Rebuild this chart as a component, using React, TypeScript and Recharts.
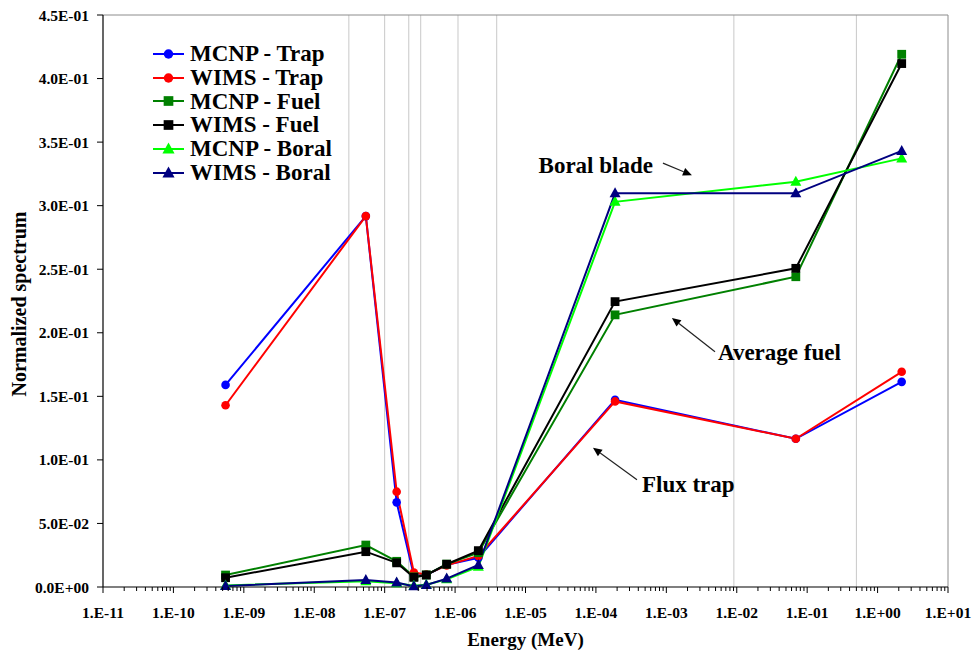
import { Legend, Line, LineChart, ReferenceLine, XAxis, YAxis } from "recharts";

const FONT = '"Liberation Serif", "Times New Roman", serif';

// energy group mid-points (MeV)
const energy = [5.5e-10, 5.4e-8, 1.48e-7, 2.6e-7, 3.9e-7, 7.6e-7, 2.14e-6, 1.87e-4, 6.9e-2, 2.2];

const mcnpTrap = [0.159, 0.2918, 0.0666, 0.009, 0.0095, 0.0175, 0.023, 0.1473, 0.1166, 0.1614];
const wimsTrap = [0.143, 0.2918, 0.075, 0.0114, 0.0098, 0.017, 0.0244, 0.146, 0.1166, 0.1693];
const mcnpFuel = [0.0094, 0.033, 0.0202, 0.008, 0.0095, 0.018, 0.027, 0.2141, 0.2441, 0.4191];
const wimsFuel = [0.0073, 0.0278, 0.019, 0.0076, 0.0094, 0.0179, 0.0286, 0.2245, 0.2507, 0.4118];
const mcnpBoral = [0.0012, 0.0045, 0.003, 0.001, 0.0018, 0.006, 0.016, 0.303, 0.3188, 0.3372];
const wimsBoral = [0.0008, 0.0055, 0.0035, 0.0005, 0.0016, 0.0066, 0.0173, 0.3097, 0.3097, 0.3431];

const decadeTicks = [1e-11, 1e-10, 1e-9, 1e-8, 1e-7, 1e-6, 1e-5, 1e-4, 1e-3, 1e-2, 1e-1, 1, 10];
const minorSteps = [2, 3, 4, 5, 6, 7, 8, 9];
const yTicks = [0, 0.05, 0.1, 0.15, 0.2, 0.25, 0.3, 0.35, 0.4, 0.45];

// WIMS group boundaries drawn as light vertical lines
const groupBounds = [3.1e-8, 1.0e-7, 2.2e-7, 3.25e-7, 1.1e-6, 3.9e-6, 9.1e-3, 0.5];

const series = [
  { key: "mcnpTrap", name: "MCNP - Trap", color: "#0000FF", shape: "circle" },
  { key: "wimsTrap", name: "WIMS - Trap", color: "#FF0000", shape: "circle" },
  { key: "mcnpFuel", name: "MCNP - Fuel", color: "#008000", shape: "square" },
  { key: "wimsFuel", name: "WIMS - Fuel", color: "#000000", shape: "square" },
  { key: "mcnpBoral", name: "MCNP - Boral", color: "#00FF00", shape: "triangle" },
  { key: "wimsBoral", name: "WIMS - Boral", color: "#000080", shape: "triangle" },
];

const rows = energy.map((e, i) => ({
  energy: e,
  mcnpTrap: mcnpTrap[i],
  wimsTrap: wimsTrap[i],
  mcnpFuel: mcnpFuel[i],
  wimsFuel: wimsFuel[i],
  mcnpBoral: mcnpBoral[i],
  wimsBoral: wimsBoral[i],
}));

const allXTicks = decadeTicks.flatMap((d, i) =>
  i < decadeTicks.length - 1 ? [d, ...minorSteps.map((s) => s * d)] : [d],
);

function formatDecade(v: number) {
  const e = Math.round(Math.log10(v));
  return `1.E${e < 0 ? "-" : "+"}${String(Math.abs(e)).padStart(2, "0")}`;
}

function formatSci(v: number) {
  if (v === 0) return "0.0E+00";
  const e = Math.floor(Math.log10(v) + 1e-9);
  const m = v / Math.pow(10, e);
  return `${m.toFixed(1)}E${e < 0 ? "-" : "+"}${String(Math.abs(e)).padStart(2, "0")}`;
}

function Marker({ shape, cx, cy, color, s = 1 }: any) {
  if (shape === "circle") {
    return <circle cx={cx} cy={cy} r={4.3 * s} fill={color} />;
  }
  if (shape === "square") {
    const h = 4.4 * s;
    return <rect x={cx - h} y={cy - h} width={2 * h} height={2 * h} fill={color} />;
  }
  const w = 5.5 * s;
  return (
    <polygon
      points={`${cx},${cy - 6 * s} ${cx - w},${cy + 4 * s} ${cx + w},${cy + 4 * s}`}
      fill={color}
    />
  );
}

const TICK_SIZE = 6;
const TICK_MARGIN = 14;

function XTick(props: any) {
  const { x, y, payload } = props;
  const v = payload.value;
  const axisY = y - TICK_SIZE - TICK_MARGIN;
  const major = decadeTicks.some((d) => Math.abs(d - v) / d < 1e-6);
  return (
    <g>
      <line x1={x} x2={x} y1={axisY} y2={axisY + (major ? 6 : 4)} stroke="#000" strokeWidth={1} />
      {major ? (
        <text
          x={x}
          y={y}
          dy="0.71em"
          textAnchor="middle"
          fontFamily={FONT}
          fontWeight="bold"
          fontSize={15.5}
          fill="#000"
        >
          {formatDecade(v)}
        </text>
      ) : null}
    </g>
  );
}

function makeArrow(text: string, dx: number, dy: number, anchor: "start" | "end") {
  return (p: any) => {
    const { x1, y1, x2, y2 } = p;
    const a = Math.atan2(y2 - y1, x2 - x1);
    const L = 9;
    const W = 4;
    const bx = x2 - L * Math.cos(a);
    const by = y2 - L * Math.sin(a);
    return (
      <g>
        <line x1={x1} y1={y1} x2={bx} y2={by} stroke="#222" strokeWidth={1.2} />
        <polygon
          points={`${x2},${y2} ${bx + W * Math.sin(a)},${by - W * Math.cos(a)} ${bx - W * Math.sin(a)},${by + W * Math.cos(a)}`}
          fill="#000"
        />
        <text
          x={x1 + dx}
          y={y1 + dy}
          textAnchor={anchor}
          fontFamily={FONT}
          fontWeight="bold"
          fontSize={23}
          fill="#000"
        >
          {text}
        </text>
      </g>
    );
  };
}

function LegendBox() {
  return (
    <div style={{ fontFamily: FONT, fontWeight: "bold", fontSize: 23, color: "#000" }}>
      {series.map((s) => (
        <div key={s.key} style={{ display: "flex", alignItems: "center", height: 23.8, lineHeight: "23.8px" }}>
          <svg width={36} height={20} style={{ marginRight: 4 }}>
            <line x1={3} x2={34} y1={10} y2={10} stroke={s.color} strokeWidth={2} />
            <Marker shape={s.shape} cx={18.5} cy={10} color={s.color} s={1.1} />
          </svg>
          <span style={{ whiteSpace: "nowrap" }}>{s.name}</span>
        </div>
      ))}
    </div>
  );
}

export default function App() {
  return (
    <div style={{ position: "absolute", left: 0, top: 0, width: 974, height: 651, background: "#fff" }}>
      <LineChart width={974} height={651} data={rows} margin={{ top: 15, right: 26, bottom: 0, left: 0 }}>
        {groupBounds.map((b) => (
          <ReferenceLine key={b} x={b} stroke="#c8c8c8" strokeWidth={1} />
        ))}
        <ReferenceLine y={0.45} stroke="#8c8c8c" strokeWidth={1} />
        <ReferenceLine x={10} stroke="#8c8c8c" strokeWidth={1} />
        <XAxis
          dataKey="energy"
          type="number"
          scale="log"
          domain={[1e-11, 10]}
          allowDataOverflow
          ticks={allXTicks}
          interval={0}
          tick={XTick}
          tickLine={false}
          tickSize={TICK_SIZE}
          tickMargin={TICK_MARGIN}
          axisLine={{ stroke: "#000", strokeWidth: 1.2 }}
          height={64}
          label={(p: any) => (
            <text
              x={p.viewBox.x + p.viewBox.width / 2}
              y={p.viewBox.y + 59}
              textAnchor="middle"
              fontFamily={FONT}
              fontWeight="bold"
              fontSize={19}
              fill="#000"
            >
              Energy (MeV)
            </text>
          )}
        />
        <YAxis
          type="number"
          domain={[0, 0.45]}
          ticks={yTicks}
          interval={0}
          width={103}
          tickFormatter={formatSci}
          tickSize={6}
          tickMargin={8}
          tick={{ fill: "#000", fontSize: 15.5, fontWeight: "bold", fontFamily: FONT }}
          tickLine={{ stroke: "#000" }}
          axisLine={{ stroke: "#000", strokeWidth: 1.2 }}
          label={(p: any) => (
            <text
              x={26}
              y={p.viewBox.y + p.viewBox.height / 2 + 3}
              transform={`rotate(-90, 26, ${p.viewBox.y + p.viewBox.height / 2 + 3})`}
              textAnchor="middle"
              fontFamily={FONT}
              fontWeight="bold"
              fontSize={20}
              fill="#000"
            >
              Normalized spectrum
            </text>
          )}
        />
        {series.map((s) => (
          <Line
            key={s.key}
            dataKey={s.key}
            name={s.name}
            type="linear"
            stroke={s.color}
            strokeWidth={2}
            dot={(p: any) => <Marker key={`${s.key}-${p.index}`} shape={s.shape} cx={p.cx} cy={p.cy} color={s.color} />}
            activeDot={false}
            isAnimationActive={false}
          />
        ))}
        <ReferenceLine
          segment={[
            { x: 8.95e-4, y: 0.3335 },
            { x: 2.31e-3, y: 0.324 },
          ]}
          shape={makeArrow("Boral blade", -10, 10, "end")}
        />
        <ReferenceLine
          segment={[
            { x: 4.91e-3, y: 0.185 },
            { x: 1.2e-3, y: 0.2117 },
          ]}
          shape={makeArrow("Average fuel", 3, 8, "start")}
        />
        <ReferenceLine
          segment={[
            { x: 3.83e-4, y: 0.0844 },
            { x: 9.08e-5, y: 0.1096 },
          ]}
          shape={makeArrow("Flux trap", 5, 12, "start")}
        />
        <Legend
          layout="vertical"
          align="center"
          verticalAlign="middle"
          content={() => <LegendBox />}
          wrapperStyle={{ left: 150, top: 42, width: 220 }}
        />
      </LineChart>
    </div>
  );
}
